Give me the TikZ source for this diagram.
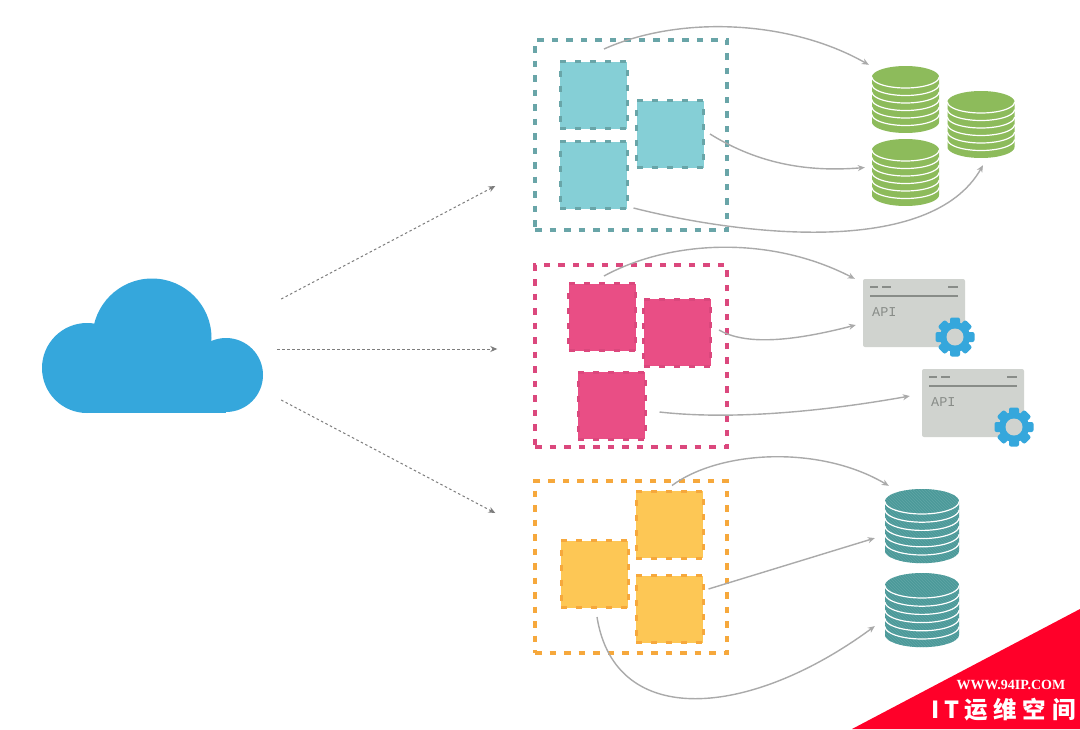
\documentclass[tikz,border=0pt]{standalone}
\usepackage{fontspec}
\setmainfont{Liberation Serif}
\setmonofont{Liberation Mono}
\newfontfamily\cjkfont{Noto Sans CJK SC}
\usetikzlibrary{arrows.meta, calc, patterns}
\definecolor{cloudblue}{RGB}{53,167,220}
\definecolor{tealfill}{RGB}{133,207,214}
\definecolor{tealline}{RGB}{105,165,168}
\definecolor{pinkfill}{RGB}{233,78,133}
\definecolor{pinkline}{RGB}{219,72,125}
\definecolor{yellowfill}{RGB}{253,199,85}
\definecolor{yellowline}{RGB}{246,168,60}
\definecolor{dbgreen}{RGB}{141,187,91}
\definecolor{dbteal}{RGB}{76,154,154}
\definecolor{dbhatch}{RGB}{96,166,166}
\definecolor{cardgray}{RGB}{208,211,207}
\definecolor{cardink}{RGB}{136,140,136}
\definecolor{flowgray}{RGB}{170,170,170}
\definecolor{ingressgray}{RGB}{125,125,125}
\definecolor{markred}{RGB}{255,0,41}
\tikzset{
  podbox/.style={draw=#1line, fill=#1fill, line width=3pt, dash pattern=on 6pt off 9pt,
                 minimum width=67pt, minimum height=67pt, inner sep=0pt},
  groupbox/.style={draw=#1line, line width=3.4pt, dash pattern=on 6.5pt off 8pt, inner sep=0pt},
  flow/.style={draw=flowgray, line width=1.4pt, -{Stealth[length=7pt,width=6pt]}},
  ingress/.style={draw=ingressgray, line width=1pt, dash pattern=on 2.5pt off 2.5pt, -{Stealth[length=7pt,width=6pt]}},
  greendisk/.style={fill=dbgreen},
  tealdisk/.style={fill=dbteal, postaction={pattern=north west lines, pattern color=dbhatch}},
}
% disks: name, x, y of top disk, style, rx, ry, spacing
\newcommand{\dbstack}[7]{
  \path[#4] (#2-#5,#3) -- plot[domain=180:360,samples=30] ({#2+#5*cos(\x)},{#3+#6*sin(\x)})
     -- (#2+#5,#3+6*#7) -- plot[domain=0:180,samples=30] ({#2+#5*cos(\x)},{#3+6*#7+#6*sin(\x)}) -- cycle;
  \foreach \i in {0,...,5}
    \draw[white, line width=1.2pt] plot[domain=0:180,samples=30] ({#2+#5*cos(\x)},{#3+\i*#7+#6*sin(\x)});
  \node[minimum width=2*#5*1pt, minimum height=2*#6*1pt+6*#7*1pt, inner sep=0pt] (#1) at (#2,#3+3*#7) {};
}
\newcommand{\apicard}[3]{
  \begin{scope}[shift={(#2,#3)}]
    \node[fill=cardgray, rounded corners=2pt, minimum width=102pt, minimum height=68pt, inner sep=0pt] (#1) at (51,34) {};
    \draw[cardink, line width=1.3pt] (7,8) -- (15,8) (19,8) -- (28,8) (85,8) -- (95,8);
    \draw[cardink, line width=1.4pt] (7,17) -- (95,17);
    \node[text=cardink, font=\ttfamily\fontsize{13.5}{14}\selectfont, inner sep=0pt, anchor=west] (#1label) at (9,33) {API};
    \begin{scope}[shift={(92,58)}]
      \foreach \a in {0,45,...,315}
        \fill[cloudblue, rotate=\a, rounded corners=2pt] (-5,-19.5) rectangle (5,0);
      \fill[cloudblue] (0,0) circle (15);
      \fill[cardgray] (0,0) circle (8.5);
    \end{scope}
  \end{scope}
}

\begin{document}
\begin{tikzpicture}[x=1pt,y=-1pt]
  \useasboundingbox (0,0) rectangle (1080,729);
  \fill[white] (0,0) rectangle (1080,729);

  % cloud
  \fill[cloudblue] (152,338) circle (59.5);
  \fill[cloudblue] (87,368) circle (45);
  \fill[cloudblue] (226,375) circle (37);
  \fill[cloudblue] (87,350) rectangle (226,412.5);
  \node[minimum width=221pt, minimum height=132pt, inner sep=0pt] (cloud) at (152.5,346) {};

  % groups
  \node[groupbox=teal, minimum width=192pt, minimum height=190pt] (tealBox) at (631,135) {};
  \node[groupbox=pink, minimum width=192pt, minimum height=182pt] (pinkBox) at (631,356) {};
  \node[groupbox=yellow, minimum width=192pt, minimum height=172pt] (yellowBox) at (631,567) {};

  \node[podbox=teal] (tealA) at (593.5,95) {};
  \node[podbox=teal] (tealB) at (670,134) {};
  \node[podbox=teal] (tealC) at (593.5,175) {};
  \node[podbox=pink] (pinkA) at (602,317) {};
  \node[podbox=pink] (pinkB) at (677,332.5) {};
  \node[podbox=pink] (pinkC) at (611.5,405.5) {};
  \node[podbox=yellow] (yellowA) at (669.5,524.5) {};
  \node[podbox=yellow] (yellowB) at (594.5,574) {};
  \node[podbox=yellow] (yellowC) at (669.5,609) {};

  % stores
  \dbstack{dbA}{905.5}{77}{greendisk}{33.5}{11}{7.5}
  \dbstack{dbB}{905.5}{150}{greendisk}{33.5}{11}{7.5}
  \dbstack{dbC}{981}{102}{greendisk}{33.5}{11}{7.5}
  \dbstack{dbD}{922}{501.5}{tealdisk}{37}{12.5}{8.2}
  \dbstack{dbE}{922}{585.5}{tealdisk}{37}{12.5}{8.2}
  \apicard{apiA}{863}{279}
  \apicard{apiB}{922}{369}

  % traffic
  \draw[ingress] ($(cloud.east)+(18,-47)$) -- ($(tealBox.west)+(-38,51)$);
  \draw[ingress] ($(cloud.east)+(14,3)$) -- ($(pinkBox.west)+(-36,-7)$);
  \draw[ingress] ($(cloud.east)+(18,54)$) -- ($(yellowBox.west)+(-38,-54)$);

  \draw[flow] ($(tealA.north)+(10.5,-11)$) .. controls (680,15) and (790,20) .. ($(dbA.north west)+(-3,-1)$);
  \draw[flow] ($(tealB.east)+(5,0)$) .. controls (760,165) and (810,172) .. ($(dbB.west)+(-7,-5)$);
  \draw[flow] ($(tealC.south east)+(5,-2)$) .. controls (740,235) and (930,258) .. ($(dbC.south)+(2,7)$);
  \draw[flow] ($(pinkA.north)+(2,-6)$) .. controls (670,240) and (770,235) .. ($(apiA.north west)+(-8,0)$);
  \draw[flow] ($(pinkB.east)+(7,-2.5)$) .. controls (745,345) and (790,342) .. ($(apiA.west)+(-7,12)$);
  \draw[flow] ($(pinkC.east)+(13,6.5)$) .. controls (730,420) and (820,412) .. ($(apiB.west)+(-12,-7)$);
  \draw[flow] ($(yellowA.north)+(2.5,-4)$) .. controls (720,450) and (820,445) .. ($(dbD.north west)+(4,-3)$);
  \draw[flow] ($(yellowC.east)+(4,-20)$) -- ($(dbD.west)+(-10,12)$);
  \draw[flow] ($(yellowB.south)+(2.5,8)$) .. controls (615,730) and (750,718) .. ($(dbE.west)+(-10,16)$);

  % corner mark
  \fill[markred] (852,729) -- (1080,609) -- (1080,729) -- cycle;
  \node[text=white, font=\bfseries\fontsize{14}{15}\selectfont, inner sep=0pt] (markUrl) at (1011,685) {WWW.94IP.COM};
  \node[text=white, font=\cjkfont\bfseries\fontsize{23.5}{25}\selectfont, inner sep=0pt] (markName) at (1003.5,710) {I\hspace{5pt}T\hspace{5pt}运\hspace{5pt}维\hspace{6pt}空\hspace{6pt}间};
\end{tikzpicture}
\end{document}
